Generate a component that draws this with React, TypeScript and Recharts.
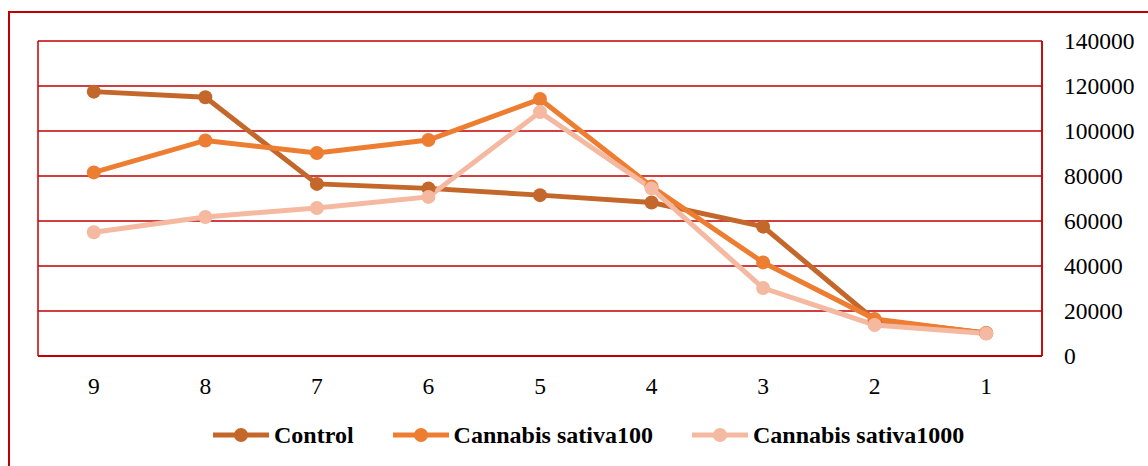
import React from 'react';
import { LineChart, Line, XAxis, YAxis, CartesianGrid } from 'recharts';

const categories = ['9', '8', '7', '6', '5', '4', '3', '2', '1'];
const control = [117500, 115000, 76500, 74500, 71500, 68200, 57500, 16000, 10200];
const sativa100 = [81600, 95800, 90200, 96000, 114200, 75300, 41600, 16400, 10100];
const sativa1000 = [55000, 61800, 65800, 70700, 108400, 74500, 30200, 13800, 10000];
const yTicks = [0, 20000, 40000, 60000, 80000, 100000, 120000, 140000];

const seriesNames = ['Control', 'Cannabis sativa100', 'Cannabis sativa1000'];
const seriesColors = ['#C4672A', '#ED7D31', '#F4B9A0'];

const data = categories.map((c, i) => ({
  cat: c,
  control: control[i],
  s100: sativa100[i],
  s1000: sativa1000[i],
}));

const RED = '#C00000';
const FONT = "'Liberation Serif', 'Times New Roman', Times, serif";

const LegendBlock = () => (
  <div
    style={{
      position: 'absolute',
      left: 213,
      top: 421,
      display: 'flex',
      alignItems: 'center',
      fontFamily: FONT,
      fontWeight: 'bold',
      fontSize: 24,
      color: '#000',
      lineHeight: '28px',
      whiteSpace: 'nowrap',
    }}
  >
    {seriesNames.map((n, i) => (
      <div key={n} style={{ display: 'flex', alignItems: 'center', marginRight: i < 2 ? 39 : 0 }}>
        <svg width={56} height={16} style={{ marginRight: 5 }}>
          <line x1={0} y1={8} x2={56} y2={8} stroke={seriesColors[i]} strokeWidth={5} />
          <circle cx={28} cy={8} r={7} fill={seriesColors[i]} />
        </svg>
        <span>{n}</span>
      </div>
    ))}
  </div>
);

export default function App() {
  return (
    <div
      style={{
        position: 'fixed',
        left: 0,
        top: 0,
        width: 1148,
        height: 466,
        overflow: 'hidden',
        background: '#fff',
      }}
    >
      <div
        style={{
          position: 'absolute',
          left: 8,
          top: 11,
          width: 1400,
          height: 800,
          border: `2px solid ${RED}`,
          boxSizing: 'border-box',
        }}
      />
      <div style={{ position: 'absolute', left: 0, top: 0 }}>
        <LineChart
          width={1148}
          height={466}
          data={data}
          margin={{ top: 41, right: 0, left: 38, bottom: 0 }}
        >
          <CartesianGrid
            stroke={RED}
            strokeWidth={1.5}
            vertical={true}
            verticalCoordinatesGenerator={({ offset }: any) => [offset.left, offset.left + offset.width]}
          />
          <XAxis
            dataKey="cat"
            height={110}
            padding={{ left: 55.8, right: 55.8 }}
            axisLine={{ stroke: RED, strokeWidth: 2 }}
            tickLine={false}
            tickSize={6}
            tickMargin={15}
            tick={{ fill: '#000', fontSize: 23.5, fontFamily: FONT }}
            interval={0}
          />
          <YAxis
            orientation="right"
            width={106}
            domain={[0, 140000]}
            ticks={yTicks}
            axisLine={{ stroke: RED, strokeWidth: 1.5 }}
            tickLine={false}
            tickSize={6}
            tickMargin={16}
            tick={{ fill: '#000', fontSize: 23.5, fontFamily: FONT, textAnchor: 'start' }}
            interval={0}
          />
          <Line
            dataKey="control"
            name={seriesNames[0]}
            stroke={seriesColors[0]}
            strokeWidth={5}
            dot={{ r: 7, fill: seriesColors[0], stroke: seriesColors[0], strokeWidth: 0 }}
            activeDot={false}
            isAnimationActive={false}
          />
          <Line
            dataKey="s100"
            name={seriesNames[1]}
            stroke={seriesColors[1]}
            strokeWidth={5}
            dot={{ r: 7, fill: seriesColors[1], stroke: seriesColors[1], strokeWidth: 0 }}
            activeDot={false}
            isAnimationActive={false}
          />
          <Line
            dataKey="s1000"
            name={seriesNames[2]}
            stroke={seriesColors[2]}
            strokeWidth={5}
            dot={{ r: 7, fill: seriesColors[2], stroke: seriesColors[2], strokeWidth: 0 }}
            activeDot={false}
            isAnimationActive={false}
          />
        </LineChart>
      </div>
      <LegendBlock />
    </div>
  );
}
